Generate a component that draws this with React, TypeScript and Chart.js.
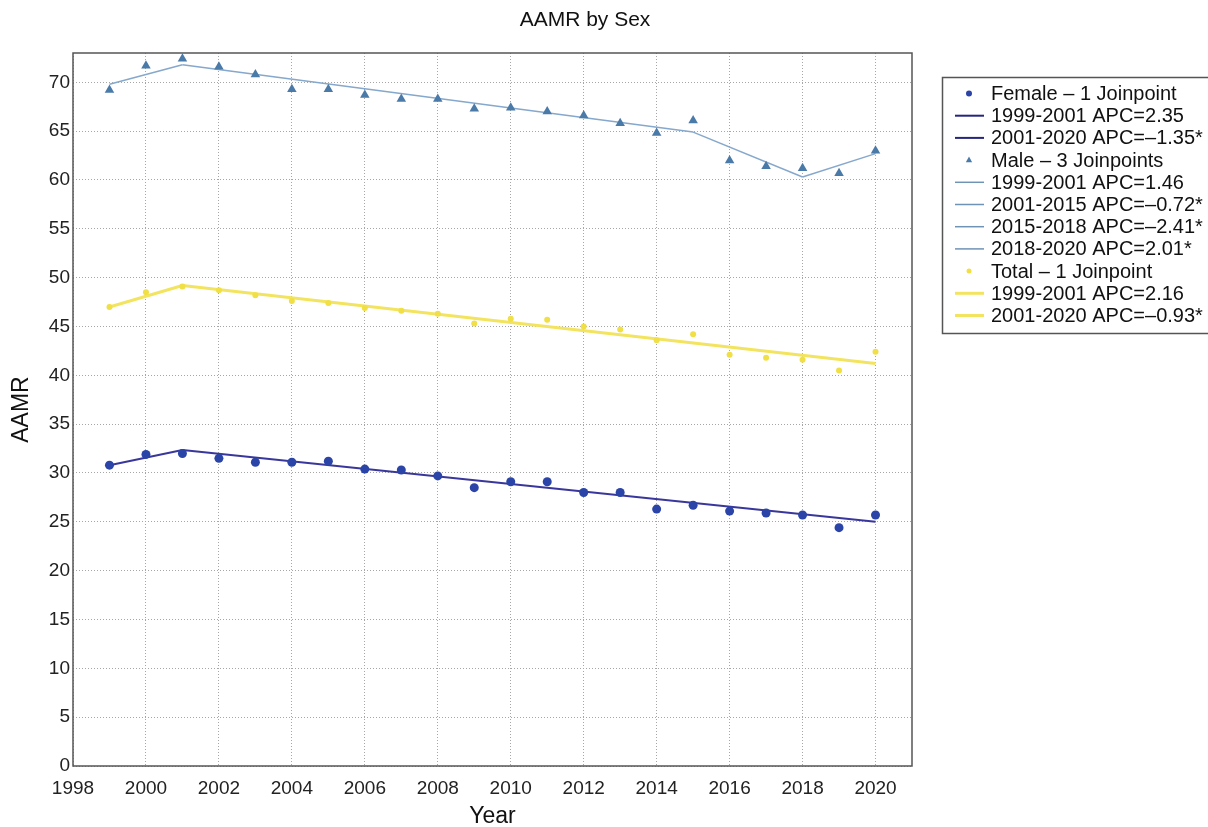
import React, { useEffect, useRef } from "react";
import { Chart, registerables } from "chart.js";

Chart.register(...registerables);

const chartTitle = "AAMR by Sex";
const xTitle = "Year";
const yTitle = "AAMR";

const years = [1999, 2000, 2001, 2002, 2003, 2004, 2005, 2006, 2007, 2008, 2009, 2010, 2011, 2012, 2013, 2014, 2015, 2016, 2017, 2018, 2019, 2020];
const femaleAAMR = [30.8, 31.9, 32.0, 31.5, 31.1, 31.1, 31.2, 30.4, 30.3, 29.7, 28.5, 29.1, 29.1, 28.0, 28.0, 26.3, 26.7, 26.1, 25.9, 25.7, 24.4, 25.7];
const maleAAMR = [69.2, 71.7, 72.4, 71.6, 70.8, 69.3, 69.3, 68.7, 68.3, 68.3, 67.3, 67.4, 67.0, 66.6, 65.8, 64.8, 66.1, 62.0, 61.4, 61.2, 60.7, 63.0];
const totalAAMR = [47.0, 48.5, 49.1, 48.7, 48.2, 47.6, 47.4, 46.9, 46.6, 46.3, 45.3, 45.8, 45.7, 45.0, 44.7, 43.6, 44.2, 42.1, 41.8, 41.6, 40.5, 42.4];

const femaleJoinYears = [1999, 2001, 2020];
const femaleFit = [30.8, 32.35, 25.0];
const femaleSegLabels = ["1999-2001 APC=2.35", "2001-2020 APC=\u20131.35*"];

const maleJoinYears = [1999, 2001, 2015, 2018, 2020];
const maleFit = [69.8, 71.8, 64.9, 60.3, 62.7];
const maleSegLabels = ["1999-2001 APC=1.46", "2001-2015 APC=\u20130.72*", "2015-2018 APC=\u20132.41*", "2018-2020 APC=2.01*"];

const totalJoinYears = [1999, 2001, 2020];
const totalFit = [47.0, 49.2, 41.2];
const totalSegLabels = ["1999-2001 APC=2.16", "2001-2020 APC=\u20130.93*"];

const seriesLabels = ["Female \u2013 1 Joinpoint", "Male \u2013 3 Joinpoints", "Total \u2013 1 Joinpoint"];

const xTickValues = [1998, 2000, 2002, 2004, 2006, 2008, 2010, 2012, 2014, 2016, 2018, 2020];
const yTickValues = [0, 5, 10, 15, 20, 25, 30, 35, 40, 45, 50, 55, 60, 65, 70];

const FONT = "'Liberation Sans', Arial, Helvetica, sans-serif";

const COLORS = {
  femalePt: "#2a44a8",
  femaleLine: "#3a379c",
  femaleLegendLine: "#25247e",
  malePt: "#4a7aa8",
  maleLine: "#86a8cc",
  maleLegendLine: "#6f93b5",
  totalPt: "#f0df45",
  totalLine: "#f3e460",
};

function segments(joinYears: number[], fit: number[], labels: string[], color: string, legendColor: string, width: number) {
  return labels.map((label, i) => ({
    type: "line" as const,
    label,
    data: [
      { x: joinYears[i], y: fit[i] },
      { x: joinYears[i + 1], y: fit[i + 1] },
    ],
    borderColor: color,
    backgroundColor: color,
    borderWidth: width,
    pointRadius: 0,
    showLine: true,
    legendKind: "line",
    legendColor,
  }));
}

function points(label: string, values: number[], color: string, style: string, radius: number, legendRadius: number) {
  return {
    type: "line" as const,
    label,
    data: years.map((yr, i) => ({ x: yr, y: values[i] })),
    showLine: false,
    borderColor: color,
    backgroundColor: color,
    pointBackgroundColor: color,
    pointBorderColor: color,
    pointBorderWidth: 0,
    pointStyle: style,
    pointRadius: radius,
    legendKind: style,
    legendColor: color,
    legendRadius,
  };
}

const framePlugin = {
  id: "frame",
  afterDraw(chart: any) {
    const { ctx, chartArea } = chart;
    const { left, right, top, bottom } = chartArea;
    ctx.save();
    ctx.strokeStyle = "#555";
    ctx.lineWidth = 1.5;
    ctx.strokeRect(left, top, right - left, bottom - top);
    ctx.restore();
  },
};

const titlePlugin = {
  id: "customTitle",
  afterDraw(chart: any) {
    const { ctx } = chart;
    ctx.save();
    ctx.fillStyle = "#111";
    ctx.font = `21px ${FONT}`;
    ctx.textAlign = "center";
    ctx.textBaseline = "middle";
    ctx.fillText(chartTitle, 585, 20);
    ctx.restore();
  },
};

const legendPlugin = {
  id: "boxLegend",
  afterDraw(chart: any) {
    const { ctx } = chart;
    const boxLeft = 942;
    const boxTop = 77;
    const boxH = 256;
    ctx.save();
    ctx.strokeStyle = "#555";
    ctx.lineWidth = 1.5;
    ctx.strokeRect(boxLeft + 0.5, boxTop + 0.5, 300, boxH);
    ctx.font = `20px ${FONT}`;
    ctx.textBaseline = "middle";
    ctx.textAlign = "left";
    chart.data.datasets.forEach((ds: any, i: number) => {
      const y = 93.5 + i * 22.2;
      const cx = 969;
      ctx.fillStyle = ds.legendColor;
      ctx.strokeStyle = ds.legendColor;
      if (ds.legendKind === "line") {
        ctx.lineWidth = ds.borderWidth;
        ctx.beginPath();
        ctx.moveTo(955, y);
        ctx.lineTo(984, y);
        ctx.stroke();
      } else if (ds.legendKind === "triangle") {
        const r = ds.legendRadius;
        ctx.beginPath();
        ctx.moveTo(cx, y - r);
        ctx.lineTo(cx + r * 0.9, y + r * 0.6);
        ctx.lineTo(cx - r * 0.9, y + r * 0.6);
        ctx.closePath();
        ctx.fill();
      } else {
        ctx.beginPath();
        ctx.arc(cx, y, ds.legendRadius, 0, Math.PI * 2);
        ctx.fill();
      }
      ctx.fillStyle = "#111";
      ctx.fillText(ds.label, 991, y + 1);
    });
    ctx.restore();
  },
};

export default function App() {
  const ref = useRef<HTMLCanvasElement>(null);

  useEffect(() => {
    if (!ref.current) return;
    const datasets: any[] = [
      points(seriesLabels[0], femaleAAMR, COLORS.femalePt, "circle", 4.5, 3),
      ...segments(femaleJoinYears, femaleFit, femaleSegLabels, COLORS.femaleLine, COLORS.femaleLegendLine, 2),
      points(seriesLabels[1], maleAAMR, COLORS.malePt, "triangle", 5.5, 3.5),
      ...segments(maleJoinYears, maleFit, maleSegLabels, COLORS.maleLine, COLORS.maleLegendLine, 1.5),
      points(seriesLabels[2], totalAAMR, COLORS.totalPt, "circle", 3, 2.5),
      ...segments(totalJoinYears, totalFit, totalSegLabels, COLORS.totalLine, COLORS.totalLine, 3),
    ];

    const gridStyle = {
      color: "#a6a6a6",
      lineWidth: 1,
      drawTicks: false,
    };

    const chart = new Chart(ref.current, {
      type: "line",
      data: { datasets },
      plugins: [framePlugin, titlePlugin, legendPlugin],
      options: {
        animation: false,
        responsive: true,
        maintainAspectRatio: false,
        layout: { padding: { left: 0, right: 296, top: 53, bottom: 0 } },
        plugins: {
          legend: { display: false },
          title: { display: false },
          tooltip: { enabled: false },
        },
        scales: {
          x: {
            type: "linear",
            min: 1998,
            max: 2021,
            afterBuildTicks: (scale: any) => {
              scale.ticks = xTickValues.map((v) => ({ value: v }));
            },
            afterFit: (scale: any) => {
              scale.height = 827 - 766;
            },
            grid: { ...gridStyle },
            border: { display: false, dash: [1, 2] },
            ticks: {
              color: "#222",
              font: { family: FONT, size: 19 },
              padding: 11,
              maxRotation: 0,
              autoSkip: false,
              callback: (v: any) => String(v),
            },
            title: {
              display: true,
              text: xTitle,
              color: "#111",
              font: { family: FONT, size: 23 },
              padding: { top: 0, bottom: -3 },
            },
          },
          y: {
            type: "linear",
            min: 0,
            max: 73,
            afterBuildTicks: (scale: any) => {
              scale.ticks = yTickValues.map((v) => ({ value: v }));
            },
            afterFit: (scale: any) => {
              scale.width = 73;
            },
            grid: { ...gridStyle },
            border: { display: false, dash: [1, 2] },
            ticks: {
              color: "#222",
              font: { family: FONT, size: 19 },
              padding: 3,
              autoSkip: false,
              callback: (v: any) => String(v),
            },
            title: {
              display: true,
              text: yTitle,
              color: "#111",
              font: { family: FONT, size: 23 },
              padding: { top: 8, bottom: 0 },
            },
          },
        },
      } as any,
    });
    return () => chart.destroy();
  }, []);

  return (
    <div style={{ position: "fixed", left: 0, top: 0, width: 1208, height: 827, background: "#fff" }}>
      <canvas ref={ref} />
    </div>
  );
}
